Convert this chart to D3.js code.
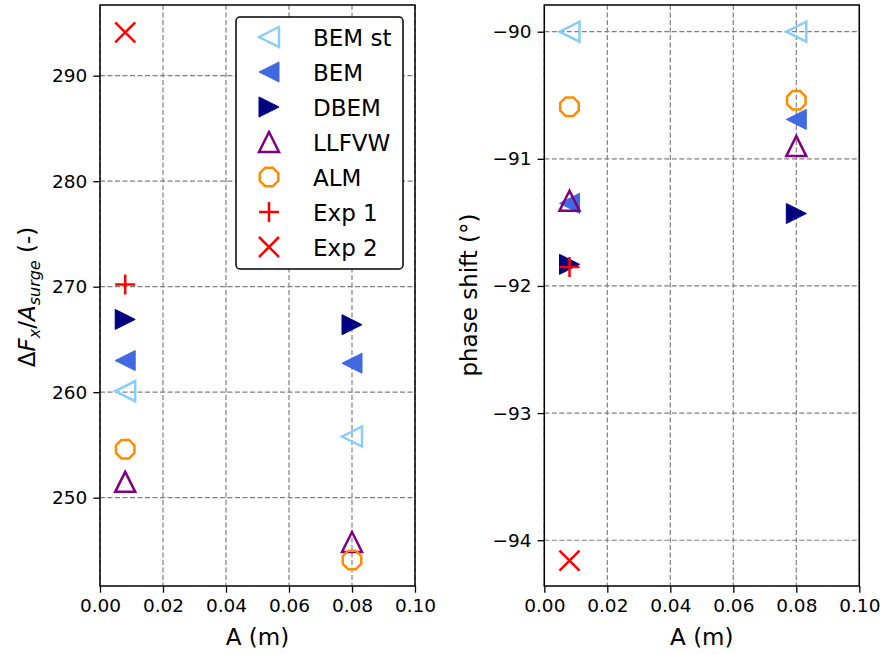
<!DOCTYPE html>
<html>
<head>
<meta charset="utf-8">
<title>Surge amplitude comparison</title>
<script src="https://d3js.org/d3.v7.min.js"></script>
<style>
  body { margin: 0; background: #fff; }
  text { font-family: "DejaVu Sans", sans-serif; fill: #000; }
</style>
</head>
<body>
<svg width="884" height="654"></svg>
<script>
// amplitudes (m)
var amps = [0.008, 0.08];
var xTicks = [0, 0.02, 0.04, 0.06, 0.08, 0.1];

// left panel: dFx / A_surge (-)
var forceBemSt = [260.1, 255.8];
var forceBem   = [263.0, 262.75];
var forceDbem  = [266.9, 266.4];
var forceLlfvw = [251.5, 245.8];
var forceAlm   = [254.6, 244.1];
var forceExp1  = [270.2];
var forceExp2  = [294.1];
var forceTicks = [250, 260, 270, 280, 290];

// right panel: phase shift (deg)
var phaseBemSt = [-90.0, -90.0];
var phaseBem   = [-91.35, -90.69];
var phaseDbem  = [-91.83, -91.43];
var phaseLlfvw = [-91.33, -90.90];
var phaseAlm   = [-90.59, -90.54];
var phaseExp1  = [-91.85];
var phaseExp2  = [-94.16];
var phaseTicks = [-94, -93, -92, -91, -90];

var seriesNames = ["BEM st", "BEM", "DBEM", "LLFVW", "ALM", "Exp 1", "Exp 2"];
var seriesColors = ["#87cefa", "#4169e1", "#000080", "#800080", "#ff8c00", "#ff0000", "#ff0000"];
var seriesShapes = ["triLeftOpen", "triLeft", "triRight", "triUpOpen", "octOpen", "plus", "cross"];

var svg = d3.select("svg");
var R = 10;

function markerPath(shape) {
  var r = R;
  switch (shape) {
    case "triLeft": case "triLeftOpen":
      return "M" + (-r) + ",0L" + r + "," + (-r) + "L" + r + "," + r + "Z";
    case "triRight":
      return "M" + r + ",0L" + (-r) + "," + (-r) + "L" + (-r) + "," + r + "Z";
    case "triUpOpen":
      return "M0," + (-r) + "L" + (-r) + "," + r + "L" + r + "," + r + "Z";
    case "octOpen":
      var pts = d3.range(8).map(function(i) {
        var a = Math.PI / 8 + i * Math.PI / 4;
        return [r * Math.cos(a), r * Math.sin(a)];
      });
      return "M" + pts.join("L") + "Z";
    case "plus":
      return "M" + (-r) + ",0L" + r + ",0M0," + (-r) + "L0," + r;
    case "cross":
      var c = r;
      return "M" + (-c) + "," + (-c) + "L" + c + "," + c + "M" + (-c) + "," + c + "L" + c + "," + (-c);
  }
}

function styleMarker(sel, shape, color) {
  var filled = (shape === "triLeft" || shape === "triRight");
  sel.attr("d", markerPath(shape))
    .attr("fill", filled ? color : "none")
    .attr("stroke", color)
    .attr("stroke-width", filled ? 1 : 2.5)
    .attr("stroke-linejoin", "miter");
}

function drawPanel(opts) {
  var x = d3.scaleLinear().domain([0, 0.1]).range([opts.left, opts.right]);
  var y = d3.scaleLinear().domain(opts.yDomain).range([586, 5]);
  var g = svg.append("g");

  // grid
  g.append("g").selectAll("line").data(xTicks).enter().append("line")
    .attr("x1", function(d) { return x(d); }).attr("x2", function(d) { return x(d); })
    .attr("y1", 5).attr("y2", 586)
    .attr("stroke", "#808080").attr("stroke-width", 1.2).attr("stroke-dasharray", "5,2.5");
  g.append("g").selectAll("line").data(opts.yTicks).enter().append("line")
    .attr("x1", opts.left).attr("x2", opts.right)
    .attr("y1", function(d) { return y(d); }).attr("y2", function(d) { return y(d); })
    .attr("stroke", "#808080").attr("stroke-width", 1.2).attr("stroke-dasharray", "5,2.5");

  // axes
  var xAxis = d3.axisBottom(x).tickValues(xTicks).tickSize(6.7).tickPadding(6)
    .tickFormat(d3.format(".2f"));
  var yAxis = d3.axisLeft(y).tickValues(opts.yTicks).tickSize(6.7).tickPadding(6)
    .tickFormat(function(d) { return String(d).replace("-", "\u2212"); });
  var gx = g.append("g").attr("transform", "translate(0,586)").call(xAxis);
  var gy = g.append("g").attr("transform", "translate(" + opts.left + ",0)").call(yAxis);
  [gx, gy].forEach(function(a) {
    a.select(".domain").remove();
    a.selectAll(".tick line").attr("stroke", "#000").attr("stroke-width", 1.3);
    a.selectAll(".tick text").style("font-family", "DejaVu Sans").style("font-size", "18.5px").attr("fill", "#000");
  });

  // markers
  opts.series.forEach(function(vals, i) {
    g.append("g").selectAll("path").data(vals).enter().append("path")
      .attr("transform", function(d, j) { return "translate(" + x(amps[j]) + "," + y(d) + ")"; })
      .call(styleMarker, seriesShapes[i], seriesColors[i]);
  });

  // frame
  g.append("rect").attr("x", opts.left).attr("y", 5)
    .attr("width", opts.right - opts.left).attr("height", 581)
    .attr("fill", "none").attr("stroke", "#000").attr("stroke-width", 1.5);

  g.append("text").attr("x", (opts.left + opts.right) / 2).attr("y", 645)
    .attr("text-anchor", "middle").style("font-size", "23px").text("A (m)");
  return g;
}

drawPanel({
  left: 100, right: 415, yDomain: [241.63, 296.7], yTicks: forceTicks,
  series: [forceBemSt, forceBem, forceDbem, forceLlfvw, forceAlm, forceExp1, forceExp2]
});
drawPanel({
  left: 544.3, right: 859.3, yDomain: [-94.36, -89.79], yTicks: phaseTicks,
  series: [phaseBemSt, phaseBem, phaseDbem, phaseLlfvw, phaseAlm, phaseExp1, phaseExp2]
});

// y labels
var yl = svg.append("text").attr("transform", "translate(35,297) rotate(-90)")
  .attr("text-anchor", "middle").style("font-size", "23px");
yl.append("tspan").text("\u0394");
yl.append("tspan").style("font-style", "italic").text("F");
yl.append("tspan").style("font-style", "italic").style("font-size", "16px").attr("dy", 5).text("x");
yl.append("tspan").attr("dy", -5).text("/");
yl.append("tspan").style("font-style", "italic").text("A");
yl.append("tspan").style("font-style", "italic").style("font-size", "16px").attr("dy", 5).text("surge");
yl.append("tspan").attr("dy", -5).text(" (-)");

svg.append("text").attr("transform", "translate(477,295) rotate(-90)")
  .attr("text-anchor", "middle").style("font-size", "23px").text("phase shift (\u00b0)");

// legend
var leg = svg.append("g");
leg.append("rect").attr("x", 236).attr("y", 17).attr("width", 167).attr("height", 252)
  .attr("rx", 4).attr("fill", "#fff").attr("stroke", "#000").attr("stroke-width", 1.5);
seriesNames.forEach(function(name, i) {
  var cy = 37 + i * 35;
  leg.append("path").attr("transform", "translate(269," + cy + ")")
    .call(styleMarker, seriesShapes[i], seriesColors[i]);
  leg.append("text").attr("x", 313).attr("y", cy + 8.5).style("font-size", "23px").text(name);
});
</script>
</body>
</html>
